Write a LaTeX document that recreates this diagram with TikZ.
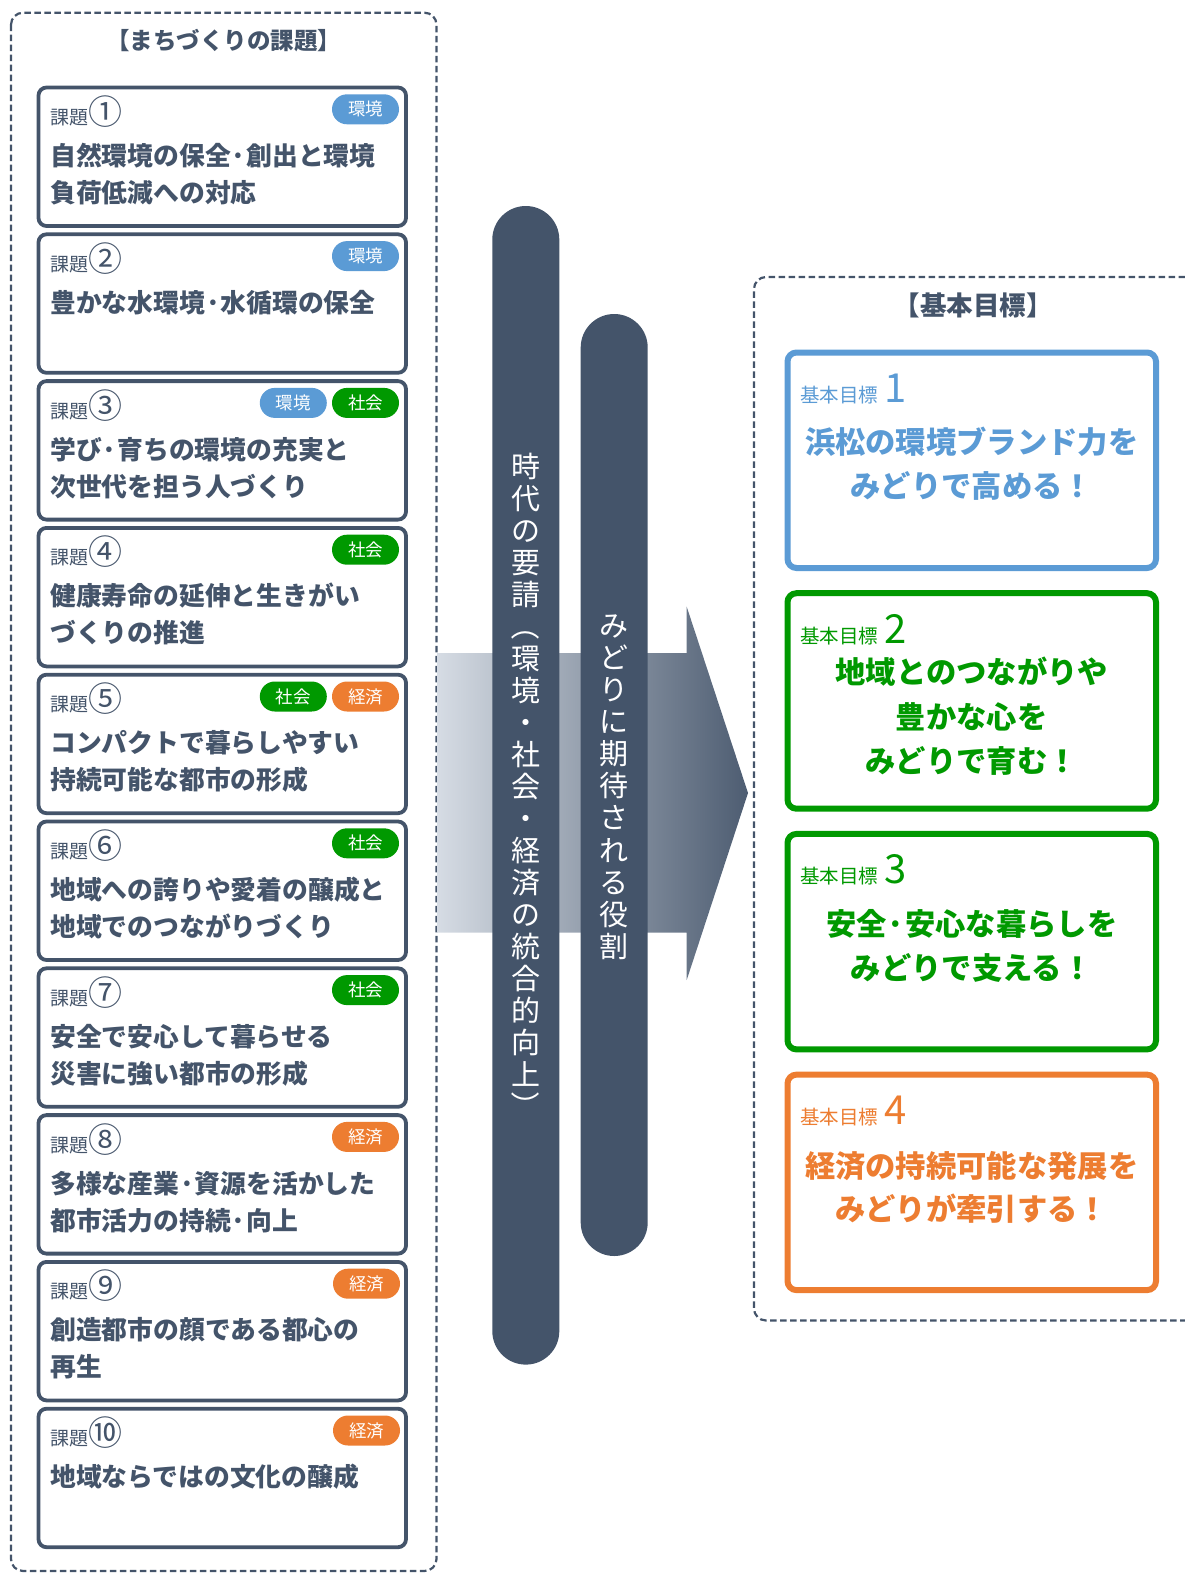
\documentclass[tikz,border=0pt]{standalone}
\usepackage{fontspec}
\setmainfont{Noto Sans CJK JP}
\usetikzlibrary{calc}
\definecolor{slate}{HTML}{44546A}
\definecolor{kblue}{HTML}{5B9BD5}
\definecolor{kgreen}{HTML}{009900}
\definecolor{korange}{HTML}{ED7D31}
\definecolor{glight}{HTML}{D6DCE4}
\newcommand{\fs}[1]{\fontsize{#1}{#1}\selectfont}
\tikzset{
 card/.style={draw=slate, line width=3.8pt, rounded corners=8pt, minimum width=367.5pt, minimum height=138.5pt, inner sep=0pt, outer sep=0pt, anchor=north west, fill=white},
 klabel/.style={anchor=base west, inner sep=0pt, text=slate, font=\fs{19}},
 ktext/.style={anchor=base west, inner sep=0pt, text=slate, font=\bfseries\fs{25.8}},
 tagbox/.style={rounded corners=15pt, minimum width=67pt, minimum height=30pt, inner sep=0pt, text=white, font=\fs{17.5}},
 goal/.style={line width=6pt, rounded corners=9pt, minimum width=368.5pt, minimum height=215.5pt, inner sep=0pt, outer sep=0pt, anchor=north west, fill=white},
 glabel/.style={anchor=base west, inner sep=0pt, font=\fs{19.5}},
 gtext/.style={anchor=base, inner sep=0pt, font=\bfseries\fs{30.3}},
 pill/.style={fill=slate, rounded corners=33.5pt, minimum width=67pt, inner sep=0pt, outer sep=0pt, anchor=north},
 vchar/.style={inner sep=0pt, text=white, font=\fs{29}, text height=25.5pt, text depth=3.5pt},
 dbox/.style={draw=slate, line width=2.2pt, dash pattern=on 6.5pt off 3.5pt, rounded corners=12pt},
 title/.style={anchor=base, inner sep=0pt, text=slate, font=\bfseries\fs{23.5}},
}
\newcommand{\kadai}[5]{%
 \pgfmathsetmacro{\kT}{87.5+146.8*(#1-1)}
 \node[card] (k#1) at (38.5,\kT) {};
 \node[klabel] (kl#1) at (50,\kT+37) {課題{\fs{34}#2}};
 \node[ktext] (ka#1) at (50,\kT+78) {#3};
 \node[ktext] (kb#1) at (50,\kT+115) {#4};
 #5
}
\begin{document}
\begin{tikzpicture}[x=1pt,y=-1pt]
\useasboundingbox (0,0) rectangle (1184,1573);
% left frame
\draw[dbox] (11,12.7) rectangle (436.5,1571);
\node[title] (lt) at (223.5,50) {【まちづくりの課題】};
\kadai{1}{①}{自然環境の保全·創出と環境}{負荷低減への対応}{\node[tagbox,fill=kblue] (t1a) at (365.5,\kT+21.8) {環境};}
\kadai{2}{②}{豊かな水環境·水循環の保全}{}{\node[tagbox,fill=kblue] (t2a) at (365.5,\kT+21.8) {環境};}
\kadai{3}{③}{学び·育ちの環境の充実と}{次世代を担う人づくり}{\node[tagbox,fill=kblue] (t3a) at (293.3,\kT+21.8) {環境};\node[tagbox,fill=kgreen] (t3b) at (365.5,\kT+21.8) {社会};}
\kadai{4}{④}{健康寿命の延伸と生きがい}{づくりの推進}{\node[tagbox,fill=kgreen] (t4a) at (365.5,\kT+21.8) {社会};}
\kadai{5}{⑤}{コンパクトで暮らしやすい}{持続可能な都市の形成}{\node[tagbox,fill=kgreen] (t5a) at (293.3,\kT+21.8) {社会};\node[tagbox,fill=korange] (t5b) at (365.5,\kT+21.8) {経済};}
\kadai{6}{⑥}{地域への誇りや愛着の醸成と}{地域でのつながりづくり}{\node[tagbox,fill=kgreen] (t6a) at (365.5,\kT+21.8) {社会};}
\kadai{7}{⑦}{安全で安心して暮らせる}{災害に強い都市の形成}{\node[tagbox,fill=kgreen] (t7a) at (365.5,\kT+21.8) {社会};}
\kadai{8}{⑧}{多様な産業·資源を活かした}{都市活力の持続·向上}{\node[tagbox,fill=korange] (t8a) at (365.5,\kT+21.8) {経済};}
\kadai{9}{⑨}{創造都市の顔である都心の}{再生}{\node[tagbox,fill=korange] (t9a) at (366.5,\kT+21.8) {経済};}
\kadai{10}{⑩}{地域ならではの文化の醸成}{}{\node[tagbox,fill=korange] (t10a) at (366.5,\kT+21.8) {経済};}
% arrow
\shade[left color=glight, right color=slate!95!white] (437,653) -- (686.7,653) -- (686.7,606.7) -- (748,793) -- (686.7,980) -- (686.7,932.7) -- (437,932.7) -- cycle;
% pills
\node[pill, minimum height=1158.6pt] (p1) at (525.8,206) {};
\node[pill, minimum height=942pt] (p2) at (614.2,314) {};
\foreach \c [count=\k] in {時,代,の,要,請,{\rotatebox[origin=c]{-90}{（}},環,境,・,社,会,・,経,済,の,統,合,的,向,上,{\rotatebox[origin=c]{-90}{）}}}
  \node[vchar] (va\k) at (525.8,{466+32*(\k-1)}) {\c};
\foreach \c [count=\k] in {み,ど,り,に,期,待,さ,れ,る,役,割}
  \node[vchar] (vb\k) at (614.2,{625+32.15*(\k-1)}) {\c};
% right frame
\draw[dbox] (1195,277) -- (754,277) -- (754,1320.5) -- (1195,1320.5);
\node[title, font=\bfseries\fs{26.5}] (rt) at (973,315.5) {【基本目標】};
% goals
\node[goal, draw=kblue] (g1) at (787.5,352.5) {};
\node[glabel, text=kblue] (g1l) at (800,402.5) {基本目標\hspace{6pt}{\fs{40}1}};
\node[gtext, text=kblue] (g1a) at (971.7,453.5) {浜松の環境ブランド力を};
\node[gtext, text=kblue] (g1b) at (971.7,497.5) {みどりで高める！};
\node[goal, draw=kgreen] (g2) at (787.5,593.2) {};
\node[glabel, text=kgreen] (g2l) at (800,643.2) {基本目標\hspace{6pt}{\fs{40}2}};
\node[gtext, text=kgreen] (g2a) at (971.7,683.7) {地域とのつながりや};
\node[gtext, text=kgreen] (g2b) at (971.7,728.7) {豊かな心を};
\node[gtext, text=kgreen] (g2c) at (971.7,772.2) {みどりで育む！};
\node[goal, draw=kgreen] (g3) at (787.5,833.9) {};
\node[glabel, text=kgreen] (g3l) at (800,883.9) {基本目標\hspace{6pt}{\fs{40}3}};
\node[gtext, text=kgreen] (g3a) at (971.7,935.4) {安全·安心な暮らしを};
\node[gtext, text=kgreen] (g3b) at (971.7,979.4) {みどりで支える！};
\node[goal, draw=korange] (g4) at (787.5,1074.6) {};
\node[glabel, text=korange] (g4l) at (800,1124.6) {基本目標\hspace{6pt}{\fs{40}4}};
\node[gtext, text=korange] (g4a) at (971.7,1177.1) {経済の持続可能な発展を};
\node[gtext, text=korange] (g4b) at (971.7,1220.1) {みどりが牽引する！};
\end{tikzpicture}
\end{document}
